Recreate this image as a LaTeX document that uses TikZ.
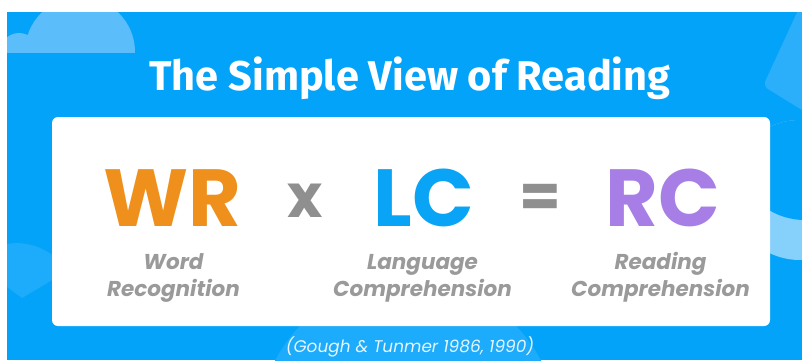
\documentclass[tikz,border=0pt]{standalone}
\usepackage{fontspec}
\newfontfamily\pop{Poppins}
\newfontfamily\fira{Fira Sans}
\definecolor{bg}{HTML}{03A3F9}
\definecolor{cloud}{HTML}{5BBEFA}
\definecolor{shapetr}{HTML}{2BAFFB}
\definecolor{ringlight}{HTML}{86D0FC}
\definecolor{faint}{HTML}{1DABFB}
\definecolor{wrorange}{HTML}{F0901C}
\definecolor{lcblue}{HTML}{09A4F5}
\definecolor{rcpurple}{HTML}{A77EE6}
\definecolor{opgray}{HTML}{8F8F8F}
\definecolor{labgray}{HTML}{9A9A9A}
\definecolor{citewhite}{HTML}{E6F5FE}
\tikzset{
  big/.style={anchor=base, inner sep=0pt, font=\pop\bfseries\fontsize{81}{81}\selectfont},
  op/.style={anchor=base, inner sep=0pt, text=opgray, font=\pop\bfseries\fontsize{60}{60}\selectfont},
  lab/.style={anchor=base, inner sep=0pt, text=labgray, font=\pop\bfseries\itshape\fontsize{21.5}{21.5}\selectfont},
}
\begin{document}
\begin{tikzpicture}[x=1pt,y=-1pt]
\useasboundingbox (0,0) rectangle (802,360);
\fill[white] (0,0) rectangle (802,360);
\fill[bg] (7,12) rectangle (802,360);
\begin{scope}
  \clip (7,12) rectangle (802,360);
  % cloud top-left
  \begin{scope}
    \clip (7,12) rectangle (802,52);
    \fill[cloud] (80,52) circle (55);
    \fill[cloud] (19,52) circle (19);
  \end{scope}
  % top-right tilted square
  \fill[shapetr, rounded corners=6pt] (800,6) -- (763,86) -- (815,118) -- (850,40) -- cycle;
  % right crescent
  \begin{scope}
    \clip (800,190) circle (70);
    \fill[ringlight] (800,190) circle (70);
    \fill[bg] (805,150) circle (70);
  \end{scope}
  % left wedge
  \fill[faint] (7,244) .. controls (25,241) and (40,246) .. (54,256) -- (54,279) -- (22,298) -- (7,287) -- cycle;
  % bottom circle
  \fill[faint] (408,430) circle (150);
\end{scope}
% white panel
\node (box) [fill=white, rounded corners=6pt, minimum width=718pt, minimum height=209pt, inner sep=0pt] at (411,221.5) {};
% title
\node (title) [anchor=base, inner sep=0pt, text=white, font=\fira\bfseries\fontsize{41.5}{41.5}\selectfont] at (410,90.7) {The Simple View of Reading};
% formula
\node (wr) [big, text=wrorange] at (172.5,226.7) {WR};
\node (times) [op] at (305.5,217) {x};
\node (lc) [big, text=lcblue] at (424,226.7) {LC};
\node (eq) [op] at (540,217) {=};
\node (rc) [big, text=rcpurple] at (662.5,226.7) {RC};
% labels
\node (wr1) [lab] at (173.5,269) {Word};
\node (wr2) [lab] at (173.5,296.7) {Recognition};
\node (lc1) [lab] at (422.5,269) {Language};
\node (lc2) [lab] at (422.5,296.7) {Comprehension};
\node (rc1) [lab] at (660.5,269) {Reading};
\node (rc2) [lab] at (660.5,296.7) {Comprehension};
% citation
\node (cite) [anchor=base, inner sep=0pt, text=citewhite, font=\pop\itshape\fontsize{16.9}{16.9}\selectfont] at (410,352) {(Gough \& Tunmer 1986, 1990)};
\end{tikzpicture}
\end{document}
